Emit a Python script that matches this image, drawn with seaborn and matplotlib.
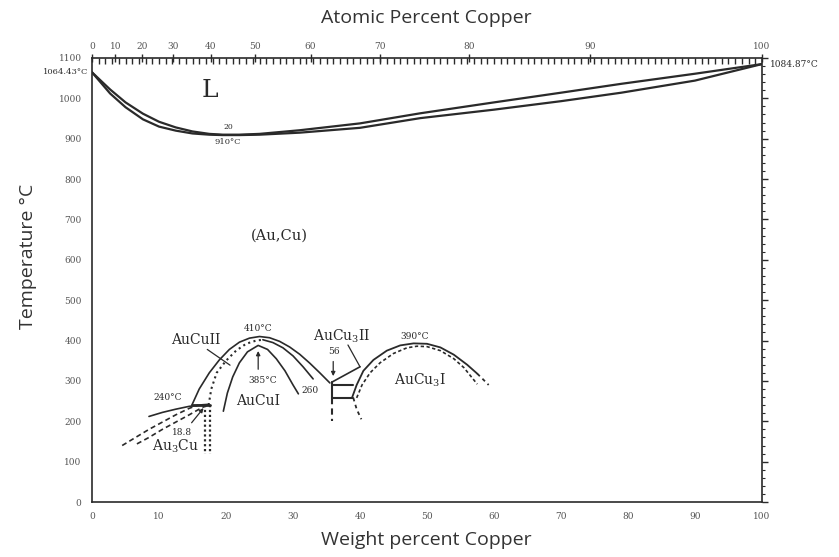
import numpy as np
import matplotlib
matplotlib.use("Agg")
import matplotlib.pyplot as plt
from matplotlib.ticker import MultipleLocator, FixedLocator
import seaborn as sns

# --- data (weight % Cu, deg C) ---
liq_wt = [0, 2.7, 5, 7.6, 10, 12.5, 15, 17.5, 19.5, 22, 25, 31, 40, 49, 60, 70, 79, 90, 100]
liq_T = [1064.4, 1022, 990, 962, 942, 928, 918, 912, 910, 910, 912, 921, 938, 963, 990, 1014, 1036, 1061, 1084.9]
sol_wt = [0, 2.7, 5, 7.6, 10, 12.5, 15, 17.5, 19.5, 22, 25, 31, 40, 49, 60, 70, 79, 90, 100]
sol_T = [1064.4, 1012, 978, 948, 930, 920, 913, 910, 909, 909, 910, 915, 927, 951, 972, 993, 1014, 1044, 1084.9]

# AuCu ordering domes
aucu_outer_wt = [14.9, 16, 17.5, 19, 20.5, 22, 23.5, 25, 26.5, 28, 29.5, 31, 32.5, 34, 35.5]
aucu_outer_T = [240, 280, 320, 352, 378, 396, 406, 410, 407, 398, 384, 366, 344, 320, 295]
aucu_mid_left_wt = [17.4, 17.8, 18.6, 20, 21.5, 23, 24.5, 25.5]
aucu_mid_left_T = [240, 280, 320, 350, 375, 392, 400, 402]
aucu_mid_right_wt = [25.5, 27, 28.5, 30, 31.5, 33]
aucu_mid_right_T = [402, 395, 382, 362, 335, 305]
aucu_inner_wt = [19.6, 20.2, 21, 22, 23.2, 24.8, 26.2, 27.5, 28.8, 30, 30.8]
aucu_inner_T = [225, 270, 310, 345, 372, 388, 378, 355, 325, 290, 268]

# Au3Cu region
au3cu_a_wt = [4.5, 6.5, 8.5, 10.5, 12.5, 14.5, 15.8]
au3cu_a_T = [140, 160, 180, 198, 216, 232, 240]
au3cu_b_wt = [6.7, 8.5, 10.5, 12.5, 14.5, 16.2, 17.2]
au3cu_b_T = [144, 160, 180, 198, 216, 232, 240]
au3cu_c_wt = [8.5, 10.5, 12.5, 14.5, 16.5, 17.4]
au3cu_c_T = [212, 222, 230, 237, 241, 242]
au3cu_tie_wt = [14.9, 17.6]
au3cu_tie_T = [240, 240]
au3cu_left_wt = [16.9, 16.9]
au3cu_right_wt = [17.6, 17.6]
au3cu_vert_T = [240, 120]

# AuCu3 region
cu3_vert_wt = [35.8, 35.8]
cu3_vert_solid_T = [297, 258]
cu3_vert_dash_T = [258, 200]
cu3_tie_wt = [35.8, 39.0]
cu3_tie_hi_T = [290, 290]
cu3_tie_lo_T = [258, 258]
cu3_diag_wt = [35.8, 40.0]
cu3_diag_T = [297, 335]
cu3_outer_wt = [38.8, 39.5, 40.5, 42, 44, 46, 48, 50, 52, 54, 56, 57.5]
cu3_outer_T = [258, 290, 325, 352, 375, 388, 393, 392, 383, 365, 340, 318]
cu3_outer_tail_wt = [57.5, 58.3, 59.2]
cu3_outer_tail_T = [318, 305, 290]
cu3_inner_wt = [39.5, 40.3, 41.5, 43, 45, 47, 48.5, 50, 52, 54, 55.5, 57.5]
cu3_inner_T = [258, 290, 320, 345, 368, 382, 386, 385, 375, 355, 333, 292]
cu3_low_wt = [39.0, 39.5, 40.2]
cu3_low_T = [258, 230, 205]

at_ticks = [0, 10, 20, 30, 40, 50, 60, 70, 80, 90, 100]
wt_ticks = [0, 10, 20, 30, 40, 50, 60, 70, 80, 90, 100]
T_ticks = [0, 100, 200, 300, 400, 500, 600, 700, 800, 900, 1000, 1100]

INK = "#2a2a2a"
GREY = "#555555"


def wt_from_at(at):
    at = np.asarray(at, dtype=float)
    cu = at * 63.546
    au = (100 - at) * 196.967
    return 100 * cu / (cu + au)


def draw(ax, x, y, ls="-", lw=1.2):
    sns.lineplot(x=x, y=y, ax=ax, sort=False, estimator=None,
                 color=INK, linewidth=lw, linestyle=ls)


sns.set_theme(style="white")
plt.rcParams["font.family"] = ["DejaVu Serif"]
plt.rcParams["mathtext.fontset"] = "dejavuserif"

fig = plt.figure(figsize=(8.39, 5.57), dpi=100)
ax = fig.add_axes([0.1097, 0.0987, 0.7985, 0.7972])

# liquidus / solidus
draw(ax, liq_wt, liq_T, lw=1.6)
draw(ax, sol_wt, sol_T, lw=1.6)

# AuCu domes
draw(ax, aucu_outer_wt, aucu_outer_T)
draw(ax, aucu_mid_left_wt, aucu_mid_left_T, ls=":", lw=1.5)
draw(ax, aucu_mid_right_wt, aucu_mid_right_T)
draw(ax, aucu_inner_wt, aucu_inner_T)

# Au3Cu
draw(ax, au3cu_a_wt, au3cu_a_T, ls=(0, (3, 2)))
draw(ax, au3cu_b_wt, au3cu_b_T, ls=(0, (3, 2)))
draw(ax, au3cu_c_wt, au3cu_c_T)
draw(ax, au3cu_tie_wt, au3cu_tie_T, lw=2.0)
draw(ax, au3cu_left_wt, au3cu_vert_T, ls=(0, (1, 1.2)), lw=1.6)
draw(ax, au3cu_right_wt, au3cu_vert_T, ls=(0, (1, 1.2)), lw=1.6)

# AuCu3
draw(ax, cu3_vert_wt, cu3_vert_solid_T, lw=1.5)
draw(ax, cu3_vert_wt, cu3_vert_dash_T, ls=(0, (3, 2)), lw=1.5)
draw(ax, cu3_tie_wt, cu3_tie_hi_T, lw=1.5)
draw(ax, cu3_tie_wt, cu3_tie_lo_T, lw=1.5)
draw(ax, cu3_diag_wt, cu3_diag_T)
draw(ax, cu3_outer_wt, cu3_outer_T, lw=1.3)
draw(ax, cu3_outer_tail_wt, cu3_outer_tail_T, ls=(0, (2, 2)), lw=1.3)
draw(ax, cu3_inner_wt, cu3_inner_T, ls=(0, (2, 1.5)), lw=1.2)
draw(ax, cu3_low_wt, cu3_low_T, ls=(0, (2, 2)), lw=1.3)

# labels on the diagram
txt = dict(color=INK, ha="center", va="center")
ax.text(17.6, 1020, "L", fontsize=18, **txt)
ax.text(20.3, 928, "20", fontsize=5.5, **txt)
ax.text(20.3, 892, "910°C", fontsize=6, **txt)
ax.text(27.9, 659, "(Au,Cu)", fontsize=10.5, **txt)
ax.text(15.5, 401, "AuCuII", fontsize=10, **txt)
ax.text(24.8, 429, "410°C", fontsize=6.5, **txt)
ax.text(25.4, 300, "385°C", fontsize=6.5, **txt)
ax.text(24.8, 250, "AuCuI", fontsize=10, **txt)
ax.text(11.3, 258, "240°C", fontsize=6.5, **txt)
ax.text(13.4, 173, "18.8", fontsize=6.5, **txt)
ax.text(12.4, 137, "Au$_3$Cu", fontsize=10, **txt)
ax.text(37.2, 411, "AuCu$_3$II", fontsize=10, **txt)
ax.text(36.1, 372, "56", fontsize=6.5, **txt)
ax.text(32.5, 277, "260", fontsize=6.5, **txt)
ax.text(48.2, 411, "390°C", fontsize=6.5, **txt)
ax.text(49.0, 302, "AuCu$_3$I", fontsize=10, **txt)

arrow = dict(arrowstyle="-|>", color=INK, lw=0.9, mutation_scale=6)
ax.annotate("", xy=(24.8, 381), xytext=(24.8, 322), arrowprops=arrow)
ax.annotate("", xy=(16.9, 238), xytext=(14.6, 191), arrowprops=arrow)
ax.annotate("", xy=(36.0, 305), xytext=(36.0, 355), arrowprops=arrow)
ax.plot([17.2, 20.6], [378, 339], color=INK, lw=0.9)
ax.plot([38.2, 40.0], [389, 335], color=INK, lw=0.9)

ax.text(-0.6, 1064.43, "1064.43°C", fontsize=6, color=INK, ha="right",
        va="center", clip_on=False)
ax.text(101.2, 1084.87, "1084.87°C", fontsize=6.5, color=INK, ha="left",
        va="center", clip_on=False)

# axes, ticks
ax.set_xlim(0, 100)
ax.set_ylim(0, 1100)
ax.set_xticks(wt_ticks)
ax.set_xticks(np.arange(0, 101, 1), minor=True)
ax.set_yticks(T_ticks)
ax.set_yticks(np.arange(0, 1101, 20), minor=True)
ax.set_xticklabels([str(v) for v in wt_ticks])
ax.set_yticklabels([str(v) for v in T_ticks])
ax.tick_params(axis="both", which="major", labelsize=6.5, labelcolor=GREY,
               direction="out", length=4, width=1, color=INK)
ax.tick_params(axis="both", which="minor", direction="out", length=2.5,
               width=0.8, color=INK)
ax.tick_params(axis="x", which="both", top=False)
ax.tick_params(axis="y", which="both", right=True)
ax.set_xlabel("")
ax.set_ylabel("")
for sp in ax.spines.values():
    sp.set_color(INK)
    sp.set_linewidth(1.2)

# atomic-percent scale on top
top = ax.secondary_xaxis("top")
top.xaxis.set_major_locator(FixedLocator(wt_from_at(at_ticks)))
top.set_xticklabels([str(v) for v in at_ticks])
top.xaxis.set_minor_locator(MultipleLocator(1))
top.tick_params(axis="x", which="major", labelsize=6.5, labelcolor=GREY,
                direction="inout", length=6, width=1, color=INK, pad=2)
top.tick_params(axis="x", which="minor", direction="in", length=4,
                width=1.0, color=INK)
top.spines["top"].set_visible(False)

sans = ["Open Sans", "DejaVu Sans"]
fig.text(0.508, 0.967, "Atomic Percent Copper", family=sans, fontsize=14,
         color="#333333", ha="center", va="center")
fig.text(0.508, 0.030, "Weight percent Copper", family=sans, fontsize=14,
         color="#333333", ha="center", va="center")
fig.text(0.033, 0.54, "Temperature °C", family=sans, fontsize=14,
         color="#333333", ha="center", va="center", rotation=90)

fig.savefig("out.png", dpi=100)
